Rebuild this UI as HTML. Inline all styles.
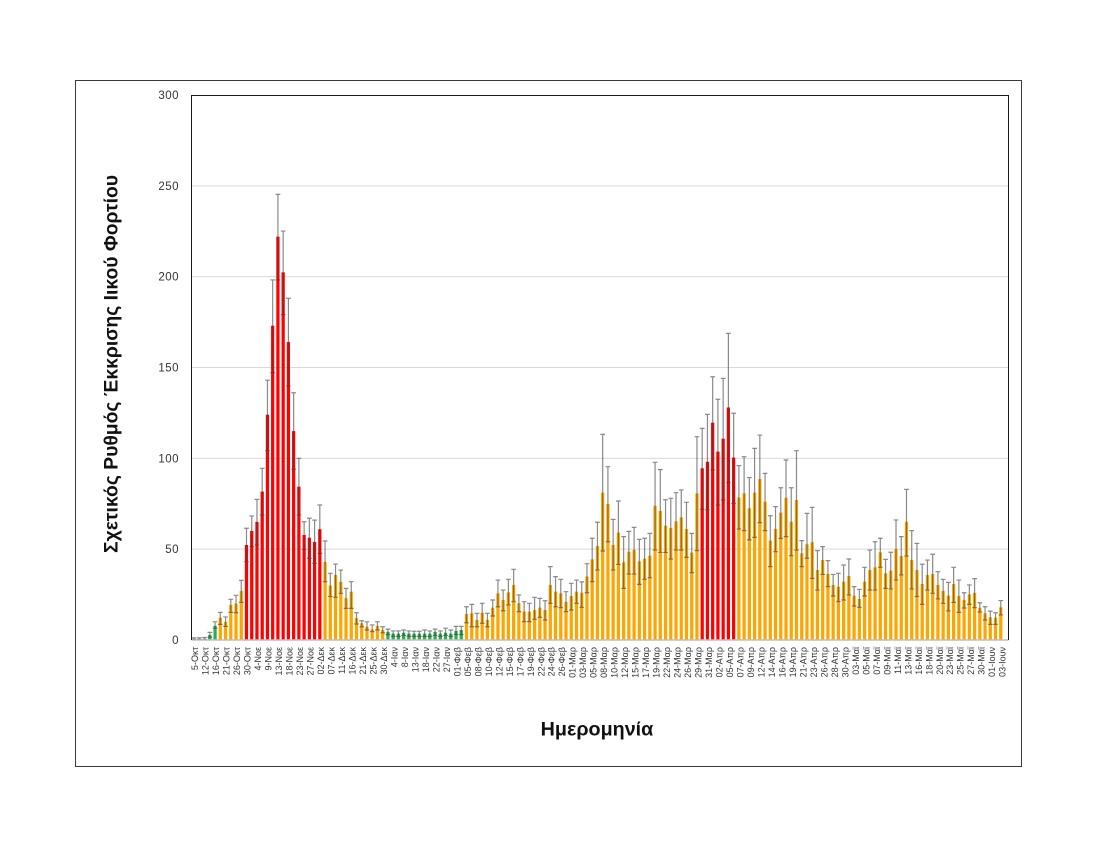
<!DOCTYPE html>
<html><head><meta charset="utf-8"><style>
html,body{margin:0;padding:0;background:#fff;}
svg{display:block;}
.xt{font-family:"Liberation Sans",sans-serif;font-size:9px;fill:#333;}
.yt{font-family:"Liberation Sans",sans-serif;font-size:11.5px;fill:#333;letter-spacing:0.5px;}
.tt{font-family:"Liberation Sans",sans-serif;font-size:19px;font-weight:bold;fill:#111;}
</style></head><body>
<svg width="1100" height="850" viewBox="0 0 1100 850" xmlns="http://www.w3.org/2000/svg">
<rect width="1100" height="850" fill="#fff"/>
<rect x="75.5" y="80.5" width="946" height="686" fill="none" stroke="#3a3a3a" stroke-width="1"/>
<g stroke="#d9d9d9" stroke-width="1">
<line x1="191.5" x2="1008.5" y1="549.17" y2="549.17"/>
<line x1="191.5" x2="1008.5" y1="458.33" y2="458.33"/>
<line x1="191.5" x2="1008.5" y1="367.5" y2="367.5"/>
<line x1="191.5" x2="1008.5" y1="276.67" y2="276.67"/>
<line x1="191.5" x2="1008.5" y1="185.83" y2="185.83"/>
</g>
<g transform="translate(191.5,640) scale(5.238,-1.8167)">
<g fill="#a6a6a6">
<rect x="0.19" width="0.62" height="0.7"/><rect x="1.19" width="0.62" height="0.7"/><rect x="2.19" width="0.62" height="0.8"/>
</g>
<g fill="#27b04b">
<rect x="3.19" width="0.62" height="2.8"/><rect x="4.19" width="0.62" height="7.8"/>
<rect x="37.19" width="0.62" height="4.5"/><rect x="38.19" width="0.62" height="3.5"/><rect x="39.19" width="0.62" height="3.5"/><rect x="40.19" width="0.62" height="4"/><rect x="41.19" width="0.62" height="3.5"/><rect x="42.19" width="0.62" height="3.5"/><rect x="43.19" width="0.62" height="3.5"/><rect x="44.19" width="0.62" height="3.5"/><rect x="45.19" width="0.62" height="3.5"/><rect x="46.19" width="0.62" height="4.5"/><rect x="47.19" width="0.62" height="3.5"/><rect x="48.19" width="0.62" height="4"/><rect x="49.19" width="0.62" height="3.5"/><rect x="50.19" width="0.62" height="5"/><rect x="51.19" width="0.62" height="5.5"/>
</g>
<g fill="#ffa500">
<rect x="5.19" width="0.62" height="12.3"/><rect x="6.19" width="0.62" height="10"/><rect x="7.19" width="0.62" height="19.3"/><rect x="8.19" width="0.62" height="20"/><rect x="9.19" width="0.62" height="27"/>
<rect x="25.19" width="0.62" height="43"/><rect x="26.19" width="0.62" height="30"/><rect x="27.19" width="0.62" height="35.8"/><rect x="28.19" width="0.62" height="32"/><rect x="29.19" width="0.62" height="23"/><rect x="30.19" width="0.62" height="26.6"/><rect x="31.19" width="0.62" height="12"/><rect x="32.19" width="0.62" height="9.2"/><rect x="33.19" width="0.62" height="7.3"/><rect x="34.19" width="0.62" height="5.9"/><rect x="35.19" width="0.62" height="7.7"/><rect x="36.19" width="0.62" height="5.5"/>
<rect x="52.19" width="0.62" height="14.3"/><rect x="53.19" width="0.62" height="14.7"/><rect x="54.19" width="0.62" height="11"/><rect x="55.19" width="0.62" height="15"/><rect x="56.19" width="0.62" height="11"/><rect x="57.19" width="0.62" height="17.8"/><rect x="58.19" width="0.62" height="25.7"/><rect x="59.19" width="0.62" height="22"/><rect x="60.19" width="0.62" height="26.2"/><rect x="61.19" width="0.62" height="30.3"/><rect x="62.19" width="0.62" height="20.2"/><rect x="63.19" width="0.62" height="15.6"/><rect x="64.19" width="0.62" height="15.6"/><rect x="65.19" width="0.62" height="16.5"/><rect x="66.19" width="0.62" height="17.8"/><rect x="67.19" width="0.62" height="16.5"/><rect x="68.19" width="0.62" height="30.3"/><rect x="69.19" width="0.62" height="26.6"/><rect x="70.19" width="0.62" height="25.7"/><rect x="71.19" width="0.62" height="21"/><rect x="72.19" width="0.62" height="24.2"/><rect x="73.19" width="0.62" height="26.6"/><rect x="74.19" width="0.62" height="26"/><rect x="75.19" width="0.62" height="35"/><rect x="76.19" width="0.62" height="44.4"/><rect x="77.19" width="0.62" height="51.7"/><rect x="78.19" width="0.62" height="81.1"/><rect x="79.19" width="0.62" height="74.9"/><rect x="80.19" width="0.62" height="52.3"/><rect x="81.19" width="0.62" height="59.1"/><rect x="82.19" width="0.62" height="42.8"/><rect x="83.19" width="0.62" height="48.6"/><rect x="84.19" width="0.62" height="49.5"/><rect x="85.19" width="0.62" height="43.3"/><rect x="86.19" width="0.62" height="44.8"/><rect x="87.19" width="0.62" height="46.4"/><rect x="88.19" width="0.62" height="73.9"/><rect x="89.19" width="0.62" height="71"/><rect x="90.19" width="0.62" height="62.9"/><rect x="91.19" width="0.62" height="61.7"/><rect x="92.19" width="0.62" height="65.3"/><rect x="93.19" width="0.62" height="67.5"/><rect x="94.19" width="0.62" height="61.1"/><rect x="95.19" width="0.62" height="48.1"/><rect x="96.19" width="0.62" height="80.7"/>
<rect x="104.19" width="0.62" height="78.5"/><rect x="105.19" width="0.62" height="80.7"/><rect x="106.19" width="0.62" height="72.5"/><rect x="107.19" width="0.62" height="81.1"/><rect x="108.19" width="0.62" height="88.6"/><rect x="109.19" width="0.62" height="76.1"/><rect x="110.19" width="0.62" height="54.7"/><rect x="111.19" width="0.62" height="61.1"/><rect x="112.19" width="0.62" height="70.1"/><rect x="113.19" width="0.62" height="78.3"/><rect x="114.19" width="0.62" height="65.1"/><rect x="115.19" width="0.62" height="77.1"/><rect x="116.19" width="0.62" height="47.7"/><rect x="117.19" width="0.62" height="52.7"/><rect x="118.19" width="0.62" height="53.8"/><rect x="119.19" width="0.62" height="38.5"/><rect x="120.19" width="0.62" height="44"/><rect x="121.19" width="0.62" height="36.3"/><rect x="122.19" width="0.62" height="30.3"/><rect x="123.19" width="0.62" height="29.3"/><rect x="124.19" width="0.62" height="32.1"/><rect x="125.19" width="0.62" height="35.2"/><rect x="126.19" width="0.62" height="24.4"/><rect x="127.19" width="0.62" height="22.6"/><rect x="128.19" width="0.62" height="32.1"/><rect x="129.19" width="0.62" height="38.5"/><rect x="130.19" width="0.62" height="40"/><rect x="131.19" width="0.62" height="48.3"/><rect x="132.19" width="0.62" height="36.7"/><rect x="133.19" width="0.62" height="38.2"/><rect x="134.19" width="0.62" height="50.1"/><rect x="135.19" width="0.62" height="46.2"/><rect x="136.19" width="0.62" height="65.1"/><rect x="137.19" width="0.62" height="44"/><rect x="138.19" width="0.62" height="38.5"/><rect x="139.19" width="0.62" height="30.8"/><rect x="140.19" width="0.62" height="35.8"/><rect x="141.19" width="0.62" height="36.3"/><rect x="142.19" width="0.62" height="30.3"/><rect x="143.19" width="0.62" height="27"/><rect x="144.19" width="0.62" height="24.4"/><rect x="145.19" width="0.62" height="30.8"/><rect x="146.19" width="0.62" height="24.2"/><rect x="147.19" width="0.62" height="22"/><rect x="148.19" width="0.62" height="25.1"/><rect x="149.19" width="0.62" height="26"/><rect x="150.19" width="0.62" height="17.8"/><rect x="151.19" width="0.62" height="14.7"/><rect x="152.19" width="0.62" height="12.5"/><rect x="153.19" width="0.62" height="12.3"/><rect x="154.19" width="0.62" height="18"/>
</g>
<g fill="#ff0000">
<rect x="10.19" width="0.62" height="52.3"/><rect x="11.19" width="0.62" height="60"/><rect x="12.19" width="0.62" height="65"/><rect x="13.19" width="0.62" height="81.7"/><rect x="14.19" width="0.62" height="124"/><rect x="15.19" width="0.62" height="173"/><rect x="16.19" width="0.62" height="222"/><rect x="17.19" width="0.62" height="202.4"/><rect x="18.19" width="0.62" height="164"/><rect x="19.19" width="0.62" height="115"/><rect x="20.19" width="0.62" height="84.4"/><rect x="21.19" width="0.62" height="57.8"/><rect x="22.19" width="0.62" height="56.3"/><rect x="23.19" width="0.62" height="54"/><rect x="24.19" width="0.62" height="61"/>
<rect x="97.19" width="0.62" height="94.5"/><rect x="98.19" width="0.62" height="98.1"/><rect x="99.19" width="0.62" height="119.6"/><rect x="100.19" width="0.62" height="103.7"/><rect x="101.19" width="0.62" height="110.8"/><rect x="102.19" width="0.62" height="128"/><rect x="103.19" width="0.62" height="100.4"/>
</g>
<path fill="none" stroke="#404040" stroke-opacity="0.62" stroke-width="1.2" vector-effect="non-scaling-stroke" d="M0.5 0.3V1.2M0.05 1.2H0.95M0.05 0.3H0.95M1.5 0.3V1.2M1.05 1.2H1.95M1.05 0.3H1.95M2.5 0.3V1.4M2.05 1.4H2.95M2.05 0.3H2.95M3.5 1.5V4.2M3.05 4.2H3.95M3.05 1.5H3.95M4.5 6.5V10M4.05 10H4.95M4.05 6.5H4.95M5.5 8.6V15.2M5.05 15.2H5.95M5.05 8.6H5.95M6.5 7.5V12.7M6.05 12.7H6.95M6.05 7.5H6.95M7.5 15.2V22.4M7.05 22.4H7.95M7.05 15.2H7.95M8.5 15V24.6M8.05 24.6H8.95M8.05 15H8.95M9.5 20.7V32.8M9.05 32.8H9.95M9.05 20.7H9.95M10.5 43.1V61.5M10.05 61.5H10.95M10.05 43.1H10.95M11.5 51.4V68.3M11.05 68.3H11.95M11.05 51.4H11.95M12.5 52.3V77.4M12.05 77.4H12.95M12.05 52.3H12.95M13.5 68.8V94.5M13.05 94.5H13.95M13.05 68.8H13.95M14.5 104.2V143M14.05 143H14.95M14.05 104.2H14.95M15.5 147.1V198.2M15.05 198.2H15.95M15.05 147.1H15.95M16.5 198.2V245.3M16.05 245.3H16.95M16.05 198.2H16.95M17.5 179.1V225.1M17.05 225.1H17.95M17.05 179.1H17.95M18.5 139.8V188.1M18.05 188.1H18.95M18.05 139.8H18.95M19.5 94V136.1M19.05 136.1H19.95M19.05 94H19.95M20.5 68.8V100M20.05 100H20.95M20.05 68.8H20.95M21.5 49.9V65.1M21.05 65.1H21.95M21.05 49.9H21.95M22.5 45V67M22.05 67H22.95M22.05 45H22.95M23.5 42.2V66M23.05 66H23.95M23.05 42.2H23.95M24.5 47.7V74.3M24.05 74.3H24.95M24.05 47.7H24.95M25.5 32.1V54.5M25.05 54.5H25.95M25.05 32.1H25.95M26.5 23.9V36.7M26.05 36.7H26.95M26.05 23.9H26.95M27.5 23.5V41.8M27.05 41.8H27.95M27.05 23.5H27.95M28.5 25.7V38.5M28.05 38.5H28.95M28.05 25.7H28.95M29.5 17.4V28.4M29.05 28.4H29.95M29.05 17.4H29.95M30.5 17.4V32.1M30.05 32.1H30.95M30.05 17.4H30.95M31.5 8.8V15M31.05 15H31.95M31.05 8.8H31.95M32.5 7.3V10.6M32.05 10.6H32.95M32.05 7.3H32.95M33.5 5.5V10M33.05 10H33.95M33.05 5.5H33.95M34.5 4.6V8.3M34.05 8.3H34.95M34.05 4.6H34.95M35.5 5.5V10M35.05 10H35.95M35.05 5.5H35.95M36.5 4V7.3M36.05 7.3H36.95M36.05 4H36.95M37.5 3V6M37.05 6H37.95M37.05 3H37.95M38.5 2V5M38.05 5H38.95M38.05 2H38.95M39.5 2V5M39.05 5H39.95M39.05 2H39.95M40.5 2.5V5.5M40.05 5.5H40.95M40.05 2.5H40.95M41.5 2V5M41.05 5H41.95M41.05 2H41.95M42.5 2V4.8M42.05 4.8H42.95M42.05 2H42.95M43.5 2V4.8M43.05 4.8H43.95M43.05 2H43.95M44.5 2V5.5M44.05 5.5H44.95M44.05 2H44.95M45.5 2V5M45.05 5H45.95M45.05 2H45.95M46.5 2.5V6M46.05 6H46.95M46.05 2.5H46.95M47.5 2V5M47.05 5H47.95M47.05 2H47.95M48.5 2.5V6.5M48.05 6.5H48.95M48.05 2.5H48.95M49.5 2V5.5M49.05 5.5H49.95M49.05 2H49.95M50.5 3V7.5M50.05 7.5H50.95M50.05 3H50.95M51.5 3V7.5M51.05 7.5H51.95M51.05 3H51.95M52.5 9.5V18.3M52.05 18.3H52.95M52.05 9.5H52.95M53.5 7.3V19.6M53.05 19.6H53.95M53.05 7.3H53.95M54.5 7.3V14.7M54.05 14.7H54.95M54.05 7.3H54.95M55.5 9.2V20.2M55.05 20.2H55.95M55.05 9.2H55.95M56.5 7.3V14.7M56.05 14.7H56.95M56.05 7.3H56.95M57.5 13.2V22M57.05 22H57.95M57.05 13.2H57.95M58.5 18.3V33M58.05 33H58.95M58.05 18.3H58.95M59.5 16.1V27.5M59.05 27.5H59.95M59.05 16.1H59.95M60.5 19.3V33.4M60.05 33.4H60.95M60.05 19.3H60.95M61.5 21.1V38.9M61.05 38.9H61.95M61.05 21.1H61.95M62.5 15.6V24.8M62.05 24.8H62.95M62.05 15.6H62.95M63.5 10.1V21.1M63.05 21.1H63.95M63.05 10.1H63.95M64.5 10.1V20.2M64.05 20.2H64.95M64.05 10.1H64.95M65.5 11.4V23.5M65.05 23.5H65.95M65.05 11.4H65.95M66.5 12.5V22.9M66.05 22.9H66.95M66.05 12.5H66.95M67.5 11V21.6M67.05 21.6H67.95M67.05 11H67.95M68.5 20.2V40.4M68.05 40.4H68.95M68.05 20.2H68.95M69.5 18.3V34.9M69.05 34.9H69.95M69.05 18.3H69.95M70.5 17.8V33.4M70.05 33.4H70.95M70.05 17.8H70.95M71.5 15.6V26.6M71.05 26.6H71.95M71.05 15.6H71.95M72.5 16.5V31.2M72.05 31.2H72.95M72.05 16.5H72.95M73.5 20.2V33M73.05 33H73.95M73.05 20.2H73.95M74.5 18V32M74.05 32H74.95M74.05 18H74.95M75.5 26V42M75.05 42H75.95M75.05 26H75.95M76.5 32.1V56M76.05 56H76.95M76.05 32.1H76.95M77.5 38.5V64.8M77.05 64.8H77.95M77.05 38.5H77.95M78.5 49V113.2M78.05 113.2H78.95M78.05 49H78.95M79.5 54.1V95.4M79.05 95.4H79.95M79.05 54.1H79.95M80.5 38.5V66.4M80.05 66.4H80.95M80.05 38.5H80.95M81.5 41.6V76.5M81.05 76.5H81.95M81.05 41.6H81.95M82.5 28.4V56.9M82.05 56.9H82.95M82.05 28.4H82.95M83.5 36.3V59.8M83.05 59.8H83.95M83.05 36.3H83.95M84.5 36.3V62M84.05 62H84.95M84.05 36.3H84.95M85.5 30.6V55.4M85.05 55.4H85.95M85.05 30.6H85.95M86.5 33.4V56M86.05 56H86.95M86.05 33.4H86.95M87.5 34.3V58.7M87.05 58.7H87.95M87.05 34.3H87.95M88.5 49.5V97.8M88.05 97.8H88.95M88.05 49.5H88.95M89.5 48.2V93.8M89.05 93.8H89.95M89.05 48.2H89.95M90.5 48.2V77.2M90.05 77.2H90.95M90.05 48.2H90.95M91.5 44.6V78M91.05 78H91.95M91.05 44.6H91.95M92.5 49.5V81.1M92.05 81.1H92.95M92.05 49.5H92.95M93.5 49.5V82.6M93.05 82.6H93.95M93.05 49.5H93.95M94.5 45.5V75.8M94.05 75.8H94.95M94.05 45.5H94.95M95.5 37.1V58.7M95.05 58.7H95.95M95.05 37.1H95.95M96.5 49.2V111.9M96.05 111.9H96.95M96.05 49.2H96.95M97.5 71.9V116.5M97.05 116.5H97.95M97.05 71.9H97.95M98.5 71.6V124.2M98.05 124.2H98.95M98.05 71.6H98.95M99.5 93.6V144.9M99.05 144.9H99.95M99.05 93.6H99.95M100.5 74.3V132.5M100.05 132.5H100.95M100.05 74.3H100.95M101.5 77.1V144M101.05 144H101.95M101.05 77.1H101.95M102.5 86.6V168.8M102.05 168.8H102.95M102.05 86.6H102.95M103.5 75.2V124.8M103.05 124.8H103.95M103.05 75.2H103.95M104.5 61.1V96M104.05 96H104.95M104.05 61.1H104.95M105.5 60.2V100.9M105.05 100.9H105.95M105.05 60.2H105.95M106.5 55.1V89.4M106.05 89.4H106.95M106.05 55.1H106.95M107.5 56.5V105.5M107.05 105.5H107.95M107.05 56.5H107.95M108.5 64.6V112.8M108.05 112.8H108.95M108.05 64.6H108.95M109.5 60.2V91.7M109.05 91.7H109.95M109.05 60.2H109.95M110.5 40.4V68.4M110.05 68.4H110.95M110.05 40.4H110.95M111.5 48.6V73.4M111.05 73.4H111.95M111.05 48.6H111.95M112.5 55.9V83.8M112.05 83.8H112.95M112.05 55.9H112.95M113.5 56.9V99.1M113.05 99.1H113.95M113.05 56.9H113.95M114.5 46.4V83.8M114.05 83.8H114.95M114.05 46.4H114.95M115.5 49.5V104.2M115.05 104.2H115.95M115.05 49.5H115.95M116.5 40.4V54.7M116.05 54.7H116.95M116.05 40.4H116.95M117.5 45V69.7M117.05 69.7H117.95M117.05 45H117.95M118.5 33.9V73M118.05 73H118.95M118.05 33.9H118.95M119.5 27.5V49.2M119.05 49.2H119.95M119.05 27.5H119.95M120.5 36.1V51.4M120.05 51.4H120.95M120.05 36.1H120.95M121.5 29.4V43.7M121.05 43.7H121.95M121.05 29.4H121.95M122.5 24.2V36.1M122.05 36.1H122.95M122.05 24.2H122.95M123.5 21.1V36.7M123.05 36.7H123.95M123.05 21.1H123.95M124.5 22V41.3M124.05 41.3H124.95M124.05 22H124.95M125.5 24.8V44.6M125.05 44.6H125.95M125.05 24.8H125.95M126.5 18.7V29.4M126.05 29.4H126.95M126.05 18.7H126.95M127.5 18V27.9M127.05 27.9H127.95M127.05 18H127.95M128.5 24.2V40M128.05 40H128.95M128.05 24.2H128.95M129.5 27.5V49.5M129.05 49.5H129.95M129.05 27.5H129.95M130.5 27.5V54.1M130.05 54.1H130.95M130.05 27.5H130.95M131.5 40V56M131.05 56H131.95M131.05 40H131.95M132.5 28.4V44.4M132.05 44.4H132.95M132.05 28.4H132.95M133.5 28.1V48.3M133.05 48.3H133.95M133.05 28.1H133.95M134.5 33V66.1M134.05 66.1H134.95M134.05 33H134.95M135.5 35.8V56.9M135.05 56.9H135.95M135.05 35.8H135.95M136.5 46.2V82.9M136.05 82.9H136.95M136.05 46.2H136.95M137.5 28.1V60.2M137.05 60.2H137.95M137.05 28.1H137.95M138.5 23.9V53.2M138.05 53.2H138.95M138.05 23.9H138.95M139.5 19.6V41.7M139.05 41.7H139.95M139.05 19.6H139.95M140.5 27.5V44M140.05 44H140.95M140.05 27.5H140.95M141.5 25.7V47.2M141.05 47.2H141.95M141.05 25.7H141.95M142.5 22.6V37.6M142.05 37.6H142.95M142.05 22.6H142.95M143.5 20.2V33.4M143.05 33.4H143.95M143.05 20.2H143.95M144.5 16V31.7M144.05 31.7H144.95M144.05 16H144.95M145.5 20.7V40M145.05 40H145.95M145.05 20.7H145.95M146.5 15.2V33M146.05 33H146.95M146.05 15.2H146.95M147.5 17.6V26M147.05 26H147.95M147.05 17.6H147.95M148.5 19.6V30.3M148.05 30.3H148.95M148.05 19.6H148.95M149.5 17.8V33.8M149.05 33.8H149.95M149.05 17.8H149.95M150.5 15.4V20.5M150.05 20.5H150.95M150.05 15.4H150.95M151.5 11V18.3M151.05 18.3H151.95M151.05 11H151.95M152.5 8.6V15.9M152.05 15.9H152.95M152.05 8.6H152.95M153.5 8.6V15M153.05 15H153.95M153.05 8.6H153.95M154.5 13.8V21.7M154.05 21.7H154.95M154.05 13.8H154.95"/>
</g>
<line x1="191.5" x2="1008.5" y1="640" y2="640" stroke="#bfbfbf" stroke-width="1.6"/>
<path d="M191.5 640V95.5H1008.5V640" fill="none" stroke="#1a1a1a" stroke-width="1"/>
<g class="yt" text-anchor="end">
<text x="179" y="644">0</text>
<text x="179" y="553.2">50</text>
<text x="179" y="462.3">100</text>
<text x="179" y="371.5">150</text>
<text x="179" y="280.7">200</text>
<text x="179" y="189.8">250</text>
<text x="179" y="99">300</text>
</g>
<g class="xt" text-anchor="end" transform="translate(198.2,647) rotate(-90)">
<text x="0" y="0">5-Οκτ</text>
<text x="0" y="10.49">12-Οκτ</text>
<text x="0" y="20.97">16-Οκτ</text>
<text x="0" y="31.46">21-Οκτ</text>
<text x="0" y="41.95">26-Οκτ</text>
<text x="0" y="52.44">30-Οκτ</text>
<text x="0" y="62.92">4-Νοε</text>
<text x="0" y="73.41">9-Νοε</text>
<text x="0" y="83.9">13-Νοε</text>
<text x="0" y="94.38">18-Νοε</text>
<text x="0" y="104.87">23-Νοε</text>
<text x="0" y="115.36">27-Νοε</text>
<text x="0" y="125.84">02-Δεκ</text>
<text x="0" y="136.33">07-Δεκ</text>
<text x="0" y="146.82">11-Δεκ</text>
<text x="0" y="157.31">16-Δεκ</text>
<text x="0" y="167.79">21-Δεκ</text>
<text x="0" y="178.28">25-Δεκ</text>
<text x="0" y="188.77">30-Δεκ</text>
<text x="0" y="199.25">4-Ιαν</text>
<text x="0" y="209.74">8-Ιαν</text>
<text x="0" y="220.23">13-Ιαν</text>
<text x="0" y="230.71">18-Ιαν</text>
<text x="0" y="241.2">22-Ιαν</text>
<text x="0" y="251.69">27-Ιαν</text>
<text x="0" y="262.18">01-Φεβ</text>
<text x="0" y="272.66">05-Φεβ</text>
<text x="0" y="283.15">08-Φεβ</text>
<text x="0" y="293.64">10-Φεβ</text>
<text x="0" y="304.12">12-Φεβ</text>
<text x="0" y="314.61">15-Φεβ</text>
<text x="0" y="325.1">17-Φεβ</text>
<text x="0" y="335.58">19-Φεβ</text>
<text x="0" y="346.07">22-Φεβ</text>
<text x="0" y="356.56">24-Φεβ</text>
<text x="0" y="367.05">26-Φεβ</text>
<text x="0" y="377.53">01-Μαρ</text>
<text x="0" y="388.02">03-Μαρ</text>
<text x="0" y="398.51">05-Μαρ</text>
<text x="0" y="408.99">08-Μαρ</text>
<text x="0" y="419.48">10-Μαρ</text>
<text x="0" y="429.97">12-Μαρ</text>
<text x="0" y="440.45">15-Μαρ</text>
<text x="0" y="450.94">17-Μαρ</text>
<text x="0" y="461.43">19-Μαρ</text>
<text x="0" y="471.92">22-Μαρ</text>
<text x="0" y="482.4">24-Μαρ</text>
<text x="0" y="492.89">26-Μαρ</text>
<text x="0" y="503.38">29-Μαρ</text>
<text x="0" y="513.86">31-Μαρ</text>
<text x="0" y="524.35">02-Απρ</text>
<text x="0" y="534.84">05-Απρ</text>
<text x="0" y="545.32">07-Απρ</text>
<text x="0" y="555.81">09-Απρ</text>
<text x="0" y="566.3">12-Απρ</text>
<text x="0" y="576.79">14-Απρ</text>
<text x="0" y="587.27">16-Απρ</text>
<text x="0" y="597.76">19-Απρ</text>
<text x="0" y="608.25">21-Απρ</text>
<text x="0" y="618.73">23-Απρ</text>
<text x="0" y="629.22">26-Απρ</text>
<text x="0" y="639.71">28-Απρ</text>
<text x="0" y="650.19">30-Απρ</text>
<text x="0" y="660.68">03-Μαϊ</text>
<text x="0" y="671.17">05-Μαϊ</text>
<text x="0" y="681.66">07-Μαϊ</text>
<text x="0" y="692.14">09-Μαϊ</text>
<text x="0" y="702.63">11-Μαϊ</text>
<text x="0" y="713.12">13-Μαϊ</text>
<text x="0" y="723.6">16-Μαϊ</text>
<text x="0" y="734.09">18-Μαϊ</text>
<text x="0" y="744.58">20-Μαϊ</text>
<text x="0" y="755.06">23-Μαϊ</text>
<text x="0" y="765.55">25-Μαϊ</text>
<text x="0" y="776.04">27-Μαϊ</text>
<text x="0" y="786.53">30-Μαϊ</text>
<text x="0" y="797.01">01-Ιουν</text>
<text x="0" y="807.5">03-Ιουν</text>
</g>
<text class="tt" text-anchor="middle" transform="translate(117.5,364) rotate(-90)" textLength="378" lengthAdjust="spacingAndGlyphs">Σχετικός Ρυθμός Έκκρισης Ιικού Φορτίου</text>
<text class="tt" x="597" y="735.7" text-anchor="middle" textLength="112.6" lengthAdjust="spacingAndGlyphs">Ημερομηνία</text>
</svg>
</body></html>
